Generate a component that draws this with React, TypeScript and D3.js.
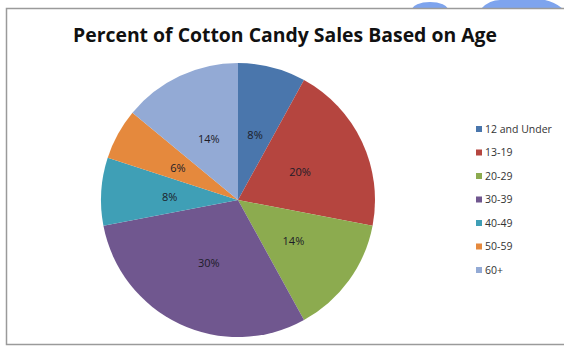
import React from "react";
import * as d3 from "d3";

const categories = ["12 and Under", "13-19", "20-29", "30-39", "40-49", "50-59", "60+"];
const values = [8, 20, 14, 30, 8, 6, 14];
const colors = ["#4a76ac", "#b5453f", "#8cab4f", "#70578f", "#3f9fb6", "#e5893d", "#93aad5"];

const W = 564;
const H = 347;
const cx = 238;
const cy = 200;
const R = 137;

export default function App() {
  const data = categories.map((c, i) => ({ c, v: values[i], col: colors[i] }));
  const pie = d3.pie<any>().value((d) => d.v).sort(null);
  const arcs = pie(data);
  const arc = d3.arc<any>().innerRadius(0).outerRadius(R);
  const labelArc = d3.arc<any>().innerRadius(R * 0.5).outerRadius(R * 0.5);
  const legendY = d3.scaleLinear().domain([0, categories.length - 1]).range([129, 270]);
  const total = d3.sum(values);

  return (
    <svg width={W} height={H} style={{ position: "absolute", left: 0, top: 0 }} fontFamily="'Open Sans', sans-serif">
      <rect x={0} y={0} width={W} height={H} fill="#fff" />
      <g fill="#7ea4ee">
        <clipPath id="topclip"><rect x={0} y={0} width={W} height={8} /></clipPath>
        <g clipPath="url(#topclip)">
          <ellipse cx={430} cy={10} rx={18} ry={8} />
          <path d="M481,9 Q489,0 500,0 L545,0 Q555,2 563,9 Z" />
        </g>
      </g>
      <rect x={6.5} y={8.5} width={W} height={336} fill="#fff" stroke="#9a9a9a" strokeWidth={1.5} />
      <text x={285} y={42} textAnchor="middle" fontSize={19.5} fontWeight="bold" fill="#111" fontFamily="'Open Sans', sans-serif" textLength={424} lengthAdjust="spacingAndGlyphs">
        Percent of Cotton Candy Sales Based on Age
      </text>
      <g transform={`translate(${cx},${cy})`}>
        {arcs.map((a, i) => (
          <path key={i} d={arc(a) as string} fill={a.data.col} />
        ))}
        {arcs.map((a, i) => {
          const [x, y] = labelArc.centroid(a);
          return (
            <text key={"l" + i} x={x} y={y + 1} dy="0.35em" textAnchor="middle" fontSize={11} fill="#1c1c28">
              {Math.round((a.data.v / total) * 100)}%
            </text>
          );
        })}
      </g>
      <g>
        {categories.map((c, i) => (
          <g key={c} transform={`translate(476,${legendY(i)})`}>
            <rect x={0} y={-3} width={6} height={6} fill={colors[i]} />
            <text x={9} y={0} dy="0.35em" fontSize={10.5} fill="#333">{c}</text>
          </g>
        ))}
      </g>
    </svg>
  );
}
